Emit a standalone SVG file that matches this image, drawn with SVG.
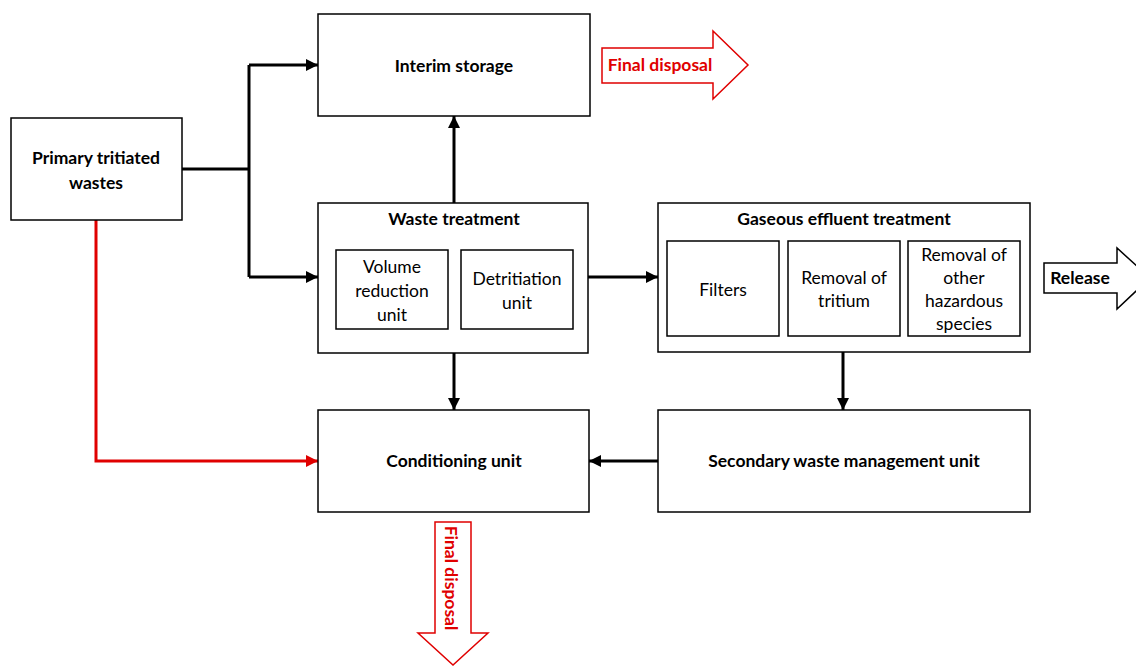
<svg xmlns="http://www.w3.org/2000/svg" width="1136" height="666" viewBox="0 0 1136 666">
<style>
.box{fill:#fff;stroke:#000;stroke-width:1.5}
.t{font-family:Lato,"Open Sans",sans-serif;font-size:17.5px;fill:#000;text-anchor:middle}
.b{font-weight:bold}
.c{fill:none;stroke:#000;stroke-width:3}
.r{fill:none;stroke:#e00000;stroke-width:3}
.red{fill:#e00000}
</style>
<defs>
<marker id="ah" viewBox="0 0 10 10" refX="10" refY="5" markerWidth="4" markerHeight="4" markerUnits="strokeWidth" orient="auto"><path d="M0,0 L10,5 L0,10 z" fill="#000"/></marker>
<marker id="ahr" viewBox="0 0 10 10" refX="10" refY="5" markerWidth="4" markerHeight="4" markerUnits="strokeWidth" orient="auto"><path d="M0,0 L10,5 L0,10 z" fill="#e00000"/></marker>
</defs>
<rect width="1136" height="666" fill="#fff"/>
<g id="connectors">
<path class="c" d="M182,169 H249 M249,65 V277"/>
<path class="c" d="M249,65 H318" marker-end="url(#ah)"/>
<path class="c" d="M249,277 H318" marker-end="url(#ah)"/>
<path class="r" d="M96,220 V461 H318" marker-end="url(#ahr)"/>
<path class="c" d="M454,203 V116" marker-end="url(#ah)"/>
<path class="c" d="M454,353 V410" marker-end="url(#ah)"/>
<path class="c" d="M588,277 H658" marker-end="url(#ah)"/>
<path class="c" d="M843,352 V410" marker-end="url(#ah)"/>
<path class="c" d="M658,461 H589" marker-end="url(#ah)"/>
</g>
<g id="primary">
<rect class="box" x="11" y="118" width="171" height="102"/>
<text class="t b" x="96" y="164">Primary tritiated</text>
<text class="t b" x="96" y="189">wastes</text>
</g>
<g id="interim">
<rect class="box" x="318" y="14" width="272" height="102"/>
<text class="t b" x="454" y="72">Interim storage</text>
</g>
<g id="final1">
<path d="M602,48 H713 V31 L748,65 L713,99 V83 H602 Z" fill="#fff" stroke="#e00000" stroke-width="1.5"/>
<text class="t b red" x="660" y="71">Final disposal</text>
</g>
<g id="waste">
<rect class="box" x="318" y="203" width="270" height="150"/>
<text class="t b" x="454" y="225">Waste treatment</text>
<rect class="box" x="336" y="250" width="112" height="79"/>
<text class="t" x="392" y="273">Volume</text>
<text class="t" x="392" y="297">reduction</text>
<text class="t" x="392" y="321">unit</text>
<rect class="box" x="461" y="250" width="112" height="79"/>
<text class="t" x="517" y="285">Detritiation</text>
<text class="t" x="517" y="309">unit</text>
</g>
<g id="gaseous">
<rect class="box" x="658" y="203" width="372" height="149"/>
<text class="t b" x="844" y="225">Gaseous effluent treatment</text>
<rect class="box" x="667" y="241" width="112" height="95"/>
<text class="t" x="723" y="296">Filters</text>
<rect class="box" x="788" y="241" width="112" height="95"/>
<text class="t" x="844" y="284">Removal of</text>
<text class="t" x="844" y="307">tritium</text>
<rect class="box" x="908" y="241" width="112" height="95"/>
<text class="t" x="964" y="261">Removal of</text>
<text class="t" x="964" y="284">other</text>
<text class="t" x="964" y="307">hazardous</text>
<text class="t" x="964" y="330">species</text>
</g>
<g id="release">
<path d="M1044,263 H1117 V248 L1150,278 L1117,309 V293 H1044 Z" fill="#fff" stroke="#000" stroke-width="1.5"/>
<text class="t b" x="1080" y="284">Release</text>
</g>
<g id="conditioning">
<rect class="box" x="318" y="410" width="271" height="102"/>
<text class="t b" x="454" y="467">Conditioning unit</text>
</g>
<g id="secondary">
<rect class="box" x="658" y="410" width="372" height="102"/>
<text class="t b" x="844" y="467">Secondary waste management unit</text>
</g>
<g id="final2">
<path d="M435,522 H471 V633 H488 L453,665 L418,633 H435 Z" fill="#fff" stroke="#e00000" stroke-width="1.5"/>
<text class="t b red" transform="translate(445,578) rotate(90)">Final disposal</text>
</g>
</svg>
